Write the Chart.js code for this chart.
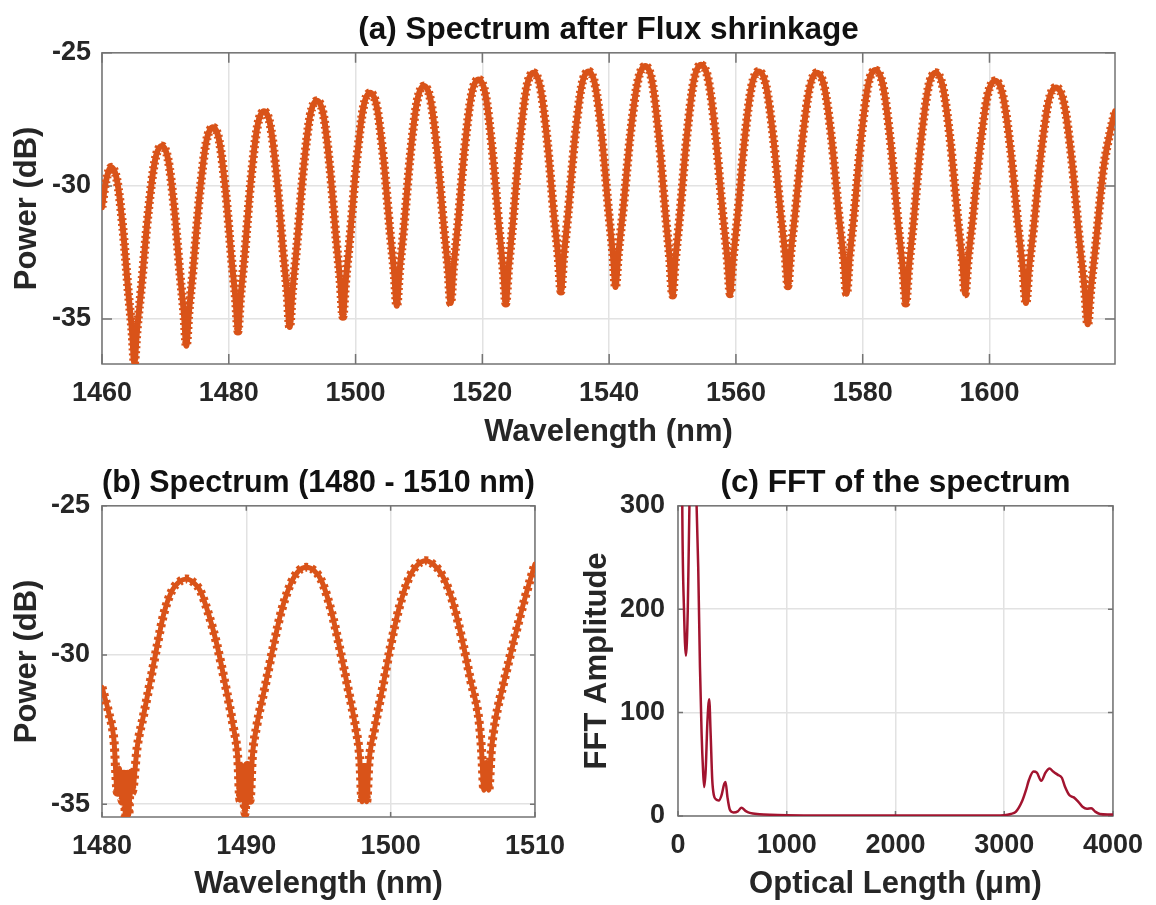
<!DOCTYPE html>
<html>
<head>
<meta charset="utf-8">
<title>Spectrum after Flux shrinkage</title>
<script src="https://cdn.jsdelivr.net/npm/chart.js@4.4.1/dist/chart.umd.min.js"></script>
<style>
  body { margin: 0; background: #fff; }
  #wrap { position: relative; width: 1156px; height: 905px; }
  canvas { position: absolute; }
  #chart_a { left: 0; top: 0; }
  #chart_b { left: 0; top: 460px; }
  #chart_c { left: 578px; top: 460px; }
</style>
</head>
<body>
<div id="wrap">
  <canvas id="chart_a" width="1156" height="460"></canvas>
  <canvas id="chart_b" width="578" height="445"></canvas>
  <canvas id="chart_c" width="578" height="445"></canvas>
</div>
<script>
// (a) whole spectrum: wavelength (nm) / power (dB)
var waveA = [
  1460.0, 1460.6, 1461.45,
  1462.36, 1463.28, 1464.19, 1464.74, 1465.1,
  1465.54, 1466.19, 1467.28, 1468.36, 1469.45,
  1470.41, 1471.38, 1472.34, 1472.92, 1473.3,
  1473.72, 1474.35, 1475.4, 1476.45, 1477.5,
  1478.49, 1479.48, 1480.46, 1481.06, 1481.45,
  1481.86, 1482.48, 1483.5, 1484.53, 1485.55,
  1486.56, 1487.58, 1488.59, 1489.2, 1489.6,
  1490.03, 1490.68, 1491.75, 1492.83, 1493.9,
  1494.93, 1495.95, 1496.98, 1497.59, 1498.0,
  1498.43, 1499.08, 1500.15, 1501.23, 1502.3,
  1503.35, 1504.4, 1505.45, 1506.08, 1506.5,
  1506.93, 1507.58, 1508.65, 1509.73, 1510.8,
  1511.85, 1512.9, 1513.95, 1514.58, 1515.0,
  1515.44, 1516.1, 1517.2, 1518.3, 1519.4,
  1520.48, 1521.55, 1522.63, 1523.27, 1523.7,
  1524.14, 1524.79, 1525.88, 1526.96, 1528.05,
  1529.14, 1530.23, 1531.31, 1531.97, 1532.4,
  1532.84, 1533.49, 1534.58, 1535.66, 1536.75,
  1537.81, 1538.88, 1539.94, 1540.58, 1541.0,
  1541.47, 1542.18, 1543.35, 1544.53, 1545.7,
  1546.78, 1547.85, 1548.93, 1549.57, 1550.0,
  1550.45, 1551.13, 1552.25, 1553.38, 1554.5,
  1555.65, 1556.8, 1557.95, 1558.64, 1559.1,
  1559.55, 1560.23, 1561.35, 1562.48, 1563.6,
  1564.75, 1565.9, 1567.05, 1567.74, 1568.2,
  1568.66, 1569.35, 1570.5, 1571.65, 1572.8,
  1573.96, 1575.13, 1576.29, 1576.99, 1577.45,
  1577.91, 1578.59, 1579.73, 1580.86, 1582.0,
  1583.2, 1584.4, 1585.6, 1586.32, 1586.8,
  1587.27, 1587.98, 1589.15, 1590.33, 1591.5,
  1592.66, 1593.83, 1594.99, 1595.69, 1596.15,
  1596.63, 1597.34, 1598.53, 1599.71, 1600.9,
  1602.11, 1603.33, 1604.54, 1605.27, 1605.75,
  1606.23, 1606.94, 1608.13, 1609.31, 1610.5,
  1611.75, 1613.0, 1614.25, 1615.0, 1615.5,
  1615.99, 1616.73, 1617.95, 1619.0, 1619.8
];
var powerA = [
  -30.8, -29.85, -29.3,
  -29.78, -31.56, -34.1, -35.47, -36.65,
  -35.39, -33.86, -31.02, -29.04, -28.5,
  -28.99, -30.81, -33.4, -34.8, -36.0,
  -34.73, -33.19, -30.34, -28.34, -27.8,
  -28.3, -30.16, -32.8, -34.24, -35.45,
  -34.18, -32.63, -29.76, -27.74, -27.2,
  -27.73, -29.71, -32.52, -34.04, -35.3,
  -34.0, -32.4, -29.44, -27.36, -26.8,
  -27.33, -29.31, -32.12, -33.64, -34.9,
  -33.61, -32.03, -29.11, -27.05, -26.5,
  -27.03, -28.98, -31.75, -33.25, -34.5,
  -33.23, -31.68, -28.81, -26.79, -26.25,
  -26.79, -28.77, -31.61, -33.14, -34.4,
  -33.11, -31.53, -28.61, -26.55, -26.0,
  -26.55, -28.61, -31.53, -33.11, -34.4,
  -33.09, -31.46, -28.44, -26.32, -25.75,
  -26.29, -28.29, -31.14, -32.68, -33.95,
  -32.68, -31.13, -28.26, -26.24, -25.7,
  -26.23, -28.21, -31.02, -32.54, -33.8,
  -32.52, -30.96, -28.07, -26.05, -25.5,
  -26.07, -28.17, -31.17, -32.79, -34.1,
  -32.79, -31.16, -28.14, -26.02, -25.45,
  -26.02, -28.12, -31.12, -32.74, -34.05,
  -32.77, -31.2, -28.29, -26.25, -25.7,
  -26.23, -28.19, -30.99, -32.5, -33.75,
  -32.5, -31.0, -28.23, -26.28, -25.75,
  -26.3, -28.32, -31.21, -32.77, -34.05,
  -32.76, -31.18, -28.26, -26.2, -25.65,
  -26.23, -28.37, -31.43, -33.08, -34.4,
  -33.09, -31.46, -28.44, -26.32, -25.75,
  -26.3, -28.32, -31.21, -32.77, -34.05,
  -32.8, -31.3, -28.53, -26.58, -26.05,
  -26.6, -28.64, -31.55, -33.12, -34.4,
  -33.14, -31.62, -28.81, -26.83, -26.3,
  -26.89, -29.07, -32.18, -33.86, -35.2,
  -33.89, -32.27, -29.4, -28.0, -27.2
];

// (b) zoom on 1480 - 1510 nm
var waveB = [
  1480.0, 1480.48, 1480.83, 1481.06, 1481.2, 1481.4, 1481.52, 1481.63, 1481.75, 1481.86,
  1481.98, 1482.09, 1482.44, 1482.9, 1483.36, 1483.8, 1484.28, 1484.85, 1485.35, 1485.84,
  1486.3, 1486.8, 1487.38, 1487.95, 1488.53, 1489.1, 1489.4, 1489.56, 1489.72, 1489.91,
  1490.08, 1490.26, 1490.42, 1490.71, 1491.29, 1491.86, 1492.44, 1493.12, 1493.65, 1494.16,
  1494.7, 1495.2, 1495.88, 1496.46, 1497.03, 1497.61, 1497.85, 1498.02, 1498.18, 1498.34,
  1498.5, 1498.87, 1499.45, 1499.98, 1500.6, 1501.29, 1501.85, 1502.44, 1503.0, 1503.59,
  1504.28, 1504.97, 1505.54, 1506.12, 1506.3, 1506.46, 1506.62, 1506.8, 1506.98, 1507.26,
  1507.85, 1508.5, 1509.3, 1510.0
];
var powerB = [
  -31.08, -31.96, -32.86, -34.6, -33.8, -34.9, -34.0, -35.5, -34.0, -35.35,
  -33.9, -34.6, -33.08, -31.97, -30.85, -29.74, -28.62, -27.84, -27.55, -27.45,
  -27.55, -27.84, -28.62, -29.63, -30.96, -32.41, -33.4, -34.87, -33.7, -35.31,
  -33.7, -34.87, -33.4, -32.41, -31.08, -29.74, -28.51, -27.56, -27.17, -27.06,
  -27.17, -27.5, -28.51, -29.74, -31.08, -32.53, -33.4, -34.92, -33.7, -34.92,
  -33.6, -32.53, -31.08, -29.74, -28.4, -27.4, -26.98, -26.84, -26.98, -27.34,
  -28.18, -29.52, -30.85, -32.19, -33.2, -34.53, -33.6, -34.53, -33.2, -32.19,
  -30.9, -29.6, -28.1, -26.95
];

// (c) FFT of the spectrum: optical length (um) / amplitude
var lengthC = [
  0, 20, 40, 55, 73, 90, 105, 130, 155, 171,
  186, 202, 217, 230, 241, 255, 270, 287, 300, 315,
  330, 350, 375, 400, 425, 437, 455, 477, 510, 550,
  584, 620, 660, 750, 850, 1000, 1500, 2000, 2500, 2900,
  3000, 3060, 3106, 3167, 3200, 3228, 3269, 3300, 3340, 3380,
  3416, 3450, 3490, 3530, 3560, 3600, 3640, 3680, 3720, 3760,
  3800, 3840, 3880, 3950, 4000
];
var ampC = [
  1200, 700, 290, 200, 155, 200, 300, 420, 400, 300,
  240, 144, 80, 45, 28, 45, 90, 113, 80, 35,
  20, 16, 15, 20, 31, 33, 18, 6, 3.5, 4.5,
  8, 5, 3, 1.8, 1.2, 0.8, 0.5, 0.4, 0.4, 0.5,
  0.8, 2, 4, 15, 25, 35, 43, 42, 34, 42,
  46, 43, 40, 37, 28, 20, 18, 14, 9, 7,
  7.5, 4, 2, 1.5, 1.5
];

// tick values and axis limits
var ticksAx = [1460, 1480, 1500, 1520, 1540, 1560, 1580, 1600];
var ticksAy = [-35, -30, -25];
var ticksBx = [1480, 1490, 1500, 1510];
var ticksBy = [-35, -30, -25];
var ticksCx = [0, 1000, 2000, 3000, 4000];
var ticksCy = [0, 100, 200, 300];
var limitsAx = [1460, 1619.8], limitsAy = [-36.69, -25];
var limitsBx = [1480, 1510], limitsBy = [-35.43, -25];
var limitsCx = [0, 4000], limitsCy = [0, 300];

var FONT = '"Liberation Sans", Arial, Helvetica, sans-serif';
Chart.defaults.font.family = FONT;
Chart.defaults.font.weight = 'bold';
Chart.defaults.color = '#262626';

function toPoints(xs, ys) {
  return xs.map(function(x, i) { return {x: x, y: ys[i]}; });
}

function plainTick(v) { return String(v); }

function fixedTicks(values) {
  return function(scale) {
    scale.ticks = values.map(function(v) { return {value: v}; });
  };
}

// box round the plot area with inward ticks, like the matlab axes
var matlabBox = {
  id: 'matlabBox',
  beforeDatasetsDraw: function(chart, args, opts) {
    var area = chart.chartArea;
    var ctx = chart.ctx;
    var len = opts.tickLen || 5;
    var xs = chart.scales.x, ys = chart.scales.y;
    ctx.save();
    ctx.strokeStyle = '#737373';
    ctx.lineWidth = 1.5;
    ctx.beginPath();
    xs.ticks.forEach(function(t) {
      var px = xs.getPixelForValue(t.value);
      ctx.moveTo(px, area.bottom); ctx.lineTo(px, area.bottom - len);
      ctx.moveTo(px, area.top); ctx.lineTo(px, area.top + len);
    });
    ys.ticks.forEach(function(t) {
      var py = ys.getPixelForValue(t.value);
      ctx.moveTo(area.left, py); ctx.lineTo(area.left + len, py);
      ctx.moveTo(area.right, py); ctx.lineTo(area.right - len, py);
    });
    ctx.stroke();
    ctx.strokeRect(area.left, area.top, area.right - area.left, area.bottom - area.top);
    ctx.restore();
  }
};

function makePanel(id, p) {
  var grid = { color: '#e2e2e2', lineWidth: 1.5, drawTicks: false };
  var points = toPoints(p.xs, p.ys);
  var datasets = [{
    data: points,
    borderColor: p.color,
    borderWidth: p.lineWidth,
    pointRadius: 0,
    cubicInterpolationMode: 'monotone',
    borderJoinStyle: 'round',
    borderCapStyle: 'round',
    clip: 0
  }];
  // the fine ripple on the spectrum shows as a toothed band: a dashed wider stroke on top
  if (p.ripple) {
    datasets.push({
      data: points,
      borderColor: p.color,
      borderWidth: p.ripple.width,
      borderDash: p.ripple.dash,
      pointRadius: 0,
      cubicInterpolationMode: 'monotone',
      borderJoinStyle: 'round',
      borderCapStyle: 'butt',
      clip: 0
    });
  }
  return new Chart(document.getElementById(id), {
    type: 'line',
    data: { datasets: datasets },
    options: {
      responsive: false,
      animation: false,
      devicePixelRatio: 1,
      layout: { padding: { left: 0, right: p.padRight, top: 0, bottom: 0 } },
      plugins: {
        legend: { display: false },
        tooltip: { enabled: false },
        title: {
          display: true, text: p.title, fullSize: false, color: '#111',
          font: { size: 31.5, weight: 'bold' },
          padding: { top: p.titleTop, bottom: p.titleBottom }
        },
        matlabBox: { tickLen: p.tickLen }
      },
      scales: {
        x: {
          type: 'linear', min: p.xLim[0], max: p.xLim[1],
          afterBuildTicks: fixedTicks(p.xTicks),
          ticks: { autoSkip: false, maxRotation: 0,
                   padding: 13, callback: plainTick, font: { size: 27, weight: 'bold' } },
          grid: grid,
          border: { display: false },
          title: { display: true, text: p.xTitle, font: { size: 31, weight: 'bold' },
                   padding: { top: 0, bottom: p.xTitleBottom } },
          afterFit: function(s) { s.height = p.xAxisHeight; }
        },
        y: {
          type: 'linear', min: p.yLim[0], max: p.yLim[1],
          afterBuildTicks: fixedTicks(p.yTicks),
          ticks: { autoSkip: false,
                   padding: p.yTickPad, callback: plainTick, font: { size: 27, weight: 'bold' } },
          grid: grid,
          border: { display: false },
          title: { display: true, text: p.yTitle, font: { size: 31, weight: 'bold' },
                   padding: { top: p.yTitleTop, bottom: 0 } },
          afterFit: function(s) { s.width = p.yAxisWidth; }
        }
      }
    },
    plugins: [matlabBox]
  });
}

makePanel('chart_a', {
  xs: waveA, ys: powerA, color: '#D95319', lineWidth: 6,
  ripple: { width: 9, dash: [2, 3] },
  title: '(a) Spectrum after Flux shrinkage', titleTop: 11, titleBottom: 4,
  xTitle: 'Wavelength (nm)', yTitle: 'Power (dB)',
  xLim: limitsAx, yLim: limitsAy, xTicks: ticksAx, yTicks: ticksAy,
  padRight: 41, yAxisWidth: 102, xAxisHeight: 96,
  xTitleBottom: 9, yTitleTop: 9, yTickPad: 11, tickLen: 10
});

makePanel('chart_b', {
  xs: waveB, ys: powerB, color: '#D95319', lineWidth: 5,
  ripple: { width: 9, dash: [3, 4] },
  title: '(b) Spectrum (1480 - 1510 nm)', titleTop: 4, titleBottom: 4,
  xTitle: 'Wavelength (nm)', yTitle: 'Power (dB)',
  xLim: limitsBx, yLim: limitsBy, xTicks: ticksBx, yTicks: ticksBy,
  padRight: 40, yAxisWidth: 102, xAxisHeight: 88,
  xTitleBottom: 2, yTitleTop: 9, yTickPad: 12, tickLen: 5
});

makePanel('chart_c', {
  xs: lengthC, ys: ampC, color: '#A2142F', lineWidth: 2.5,
  title: '(c) FFT of the spectrum', titleTop: 4, titleBottom: 4,
  xTitle: 'Optical Length (\u03BCm)', yTitle: 'FFT Amplitude',
  xLim: limitsCx, yLim: limitsCy, xTicks: ticksCx, yTicks: ticksCy,
  padRight: 42, yAxisWidth: 100, xAxisHeight: 89,
  xTitleBottom: 2, yTitleTop: 1, yTickPad: 13, tickLen: 5
});
</script>
</body>
</html>
